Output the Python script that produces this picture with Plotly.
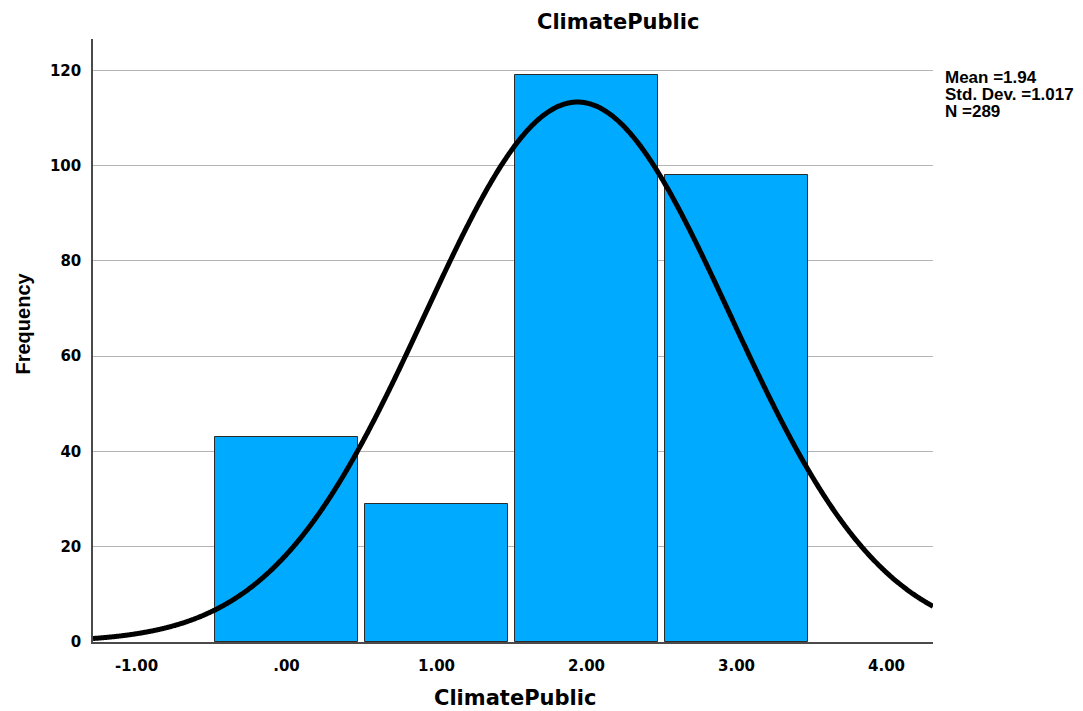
import numpy as np
import plotly.graph_objects as go

# Data
categories = [0, 1, 2, 3]
frequencies = [43, 29, 119, 98]
x_ticks = [-1, 0, 1, 2, 3, 4]
x_tick_labels = ["-1.00", ".00", "1.00", "2.00", "3.00", "4.00"]
y_ticks = [0, 20, 40, 60, 80, 100, 120]
mean_val = 1.94
std_val = 1.017
n_val = 289
bin_width = 1.0
stats_lines = [f"Mean ={mean_val:.2f}", f"Std. Dev. ={std_val:.3f}", f"N ={n_val}"]

x_min, x_max = -1.29, 4.31
xs = np.linspace(x_min, x_max, 600)
ys = n_val * bin_width / (std_val * np.sqrt(2 * np.pi)) * np.exp(-0.5 * ((xs - mean_val) / std_val) ** 2)

lib = "Liberation Sans, Arial, sans-serif"
dej = "DejaVu Sans, sans-serif"

# page has an 8px body margin; plot area in page px: x 93..933, y 39..642
PX0, PX1, PY0, PY1 = 93, 933, 39, 642
def px(xp):
    return (xp - PX0) / (PX1 - PX0)
def py(yp):
    return (PY1 - yp) / (PY1 - PY0)

fig = go.Figure()
fig.add_trace(go.Bar(
    x=categories, y=frequencies, width=0.95,
    marker=dict(color="#00aaff", line=dict(color="#2a2a2a", width=1)),
    hoverinfo="skip",
))
fig.add_trace(go.Scatter(
    x=xs, y=ys, mode="lines",
    line=dict(color="black", width=5, simplify=False, shape="spline"),
    hoverinfo="skip",
))

fig.update_layout(
    width=1075, height=703,
    margin=dict(l=85, r=150, t=31, b=69),
    paper_bgcolor="white", plot_bgcolor="white",
    showlegend=False,
    font=dict(family=lib, color="black"),
    xaxis=dict(
        range=[x_min, x_max],
        tickvals=x_ticks, ticktext=x_tick_labels,
        tickfont=dict(size=15, family=dej, weight="bold", color="black"),
        showgrid=False, zeroline=False,
        showline=True, linecolor="#4a4a4a", linewidth=1.5,
        ticks="", ticklabelstandoff=9,
        automargin=False,
    ),
    yaxis=dict(
        range=[0, 126.6],
        tickvals=y_ticks,
        tickfont=dict(size=15, family=dej, weight="bold", color="black"),
        showgrid=True, gridcolor="#b4b4b4", gridwidth=1.3,
        zeroline=False,
        showline=True, linecolor="#4a4a4a", linewidth=1.5,
        ticks="", ticklabelstandoff=7,
        automargin=False,
    ),
    bargap=0,
)

# chart title
fig.add_annotation(
    xref="paper", yref="paper", x=px(617.5), y=py(21.5),
    text="<b>ClimatePublic</b>", showarrow=False,
    font=dict(size=21, family=dej, color="black"),
    xanchor="center", yanchor="middle",
)
# x axis title
fig.add_annotation(
    xref="paper", yref="paper", x=px(514.5), y=py(698),
    text="<b>ClimatePublic</b>", showarrow=False,
    font=dict(size=21, family=dej, color="black"),
    xanchor="center", yanchor="middle",
)
# y axis title
fig.add_annotation(
    xref="paper", yref="paper", x=px(22), y=py(323.5),
    text="<b>Frequency</b>", showarrow=False, textangle=-90,
    font=dict(size=20, family=lib, color="black"),
    xanchor="center", yanchor="middle",
)
# stats box
for line, yc in zip(stats_lines, [77.5, 94.5, 111.5]):
    fig.add_annotation(
        xref="paper", yref="paper", x=px(943), y=py(yc),
        text=f"<b>{line}</b>", showarrow=False, align="left",
        font=dict(size=17, family=lib, color="black"),
        xanchor="left", yanchor="middle",
    )

fig.write_html("out.html")
